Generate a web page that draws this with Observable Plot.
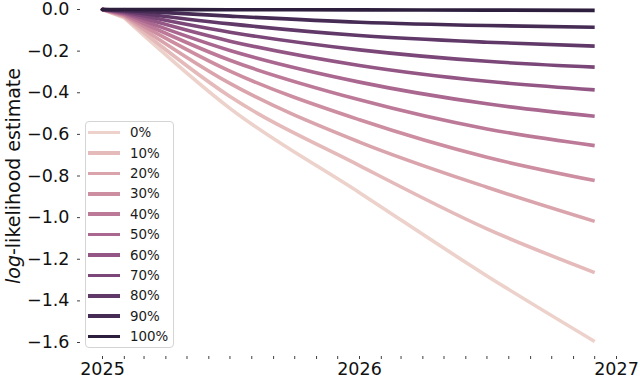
<!DOCTYPE html>
<html><head><meta charset="utf-8">
<script src="https://cdn.jsdelivr.net/npm/d3@7"></script>
<script src="https://cdn.jsdelivr.net/npm/@observablehq/plot@0.6"></script>
<style>
body{margin:0;background:#fff;font-family:"DejaVu Sans",sans-serif;}
#wrap{position:relative;width:640px;height:379px;}
.legend{position:absolute;left:85px;top:121px;width:89px;height:227px;border:1px solid #d4d4d4;border-radius:4px;background:rgba(255,255,255,0.8);box-sizing:border-box;padding-top:0.5px;}
.item{height:20.4px;display:flex;align-items:center;font-size:13.4px;color:#1a1a1a;font-family:"DejaVu Sans",sans-serif;}
.sw{width:32px;height:3.6px;margin-left:2px;margin-right:10px;}
</style></head><body><div id="wrap"></div>
<script>
// sample months (x positions are dates)
const months = ["2025-01","2025-02","2025-07","2026-01","2026-07","2026-12"];
// series (legend labels)
const series = ["0%","10%","20%","30%","40%","50%","60%","70%","80%","90%","100%"];
// log-likelihood estimates per series at the months above
const s0   = [0, -0.040, -0.475, -0.880, -1.280, -1.595];
const s10  = [0, -0.036, -0.418, -0.750, -1.054, -1.264];
const s20  = [0, -0.032, -0.355, -0.637, -0.854, -1.018];
const s30  = [0, -0.028, -0.296, -0.530, -0.710, -0.822];
const s40  = [0, -0.024, -0.244, -0.434, -0.574, -0.654];
const s50  = [0, -0.020, -0.197, -0.349, -0.453, -0.513];
const s60  = [0, -0.016, -0.152, -0.269, -0.345, -0.386];
const s70  = [0, -0.012, -0.109, -0.194, -0.249, -0.277];
const s80  = [0, -0.008, -0.069, -0.125, -0.157, -0.176];
const s90  = [0, -0.004, -0.032, -0.061, -0.077, -0.085];
const s100 = [0, 0, -0.001, -0.002, -0.003, -0.004];
const yTicks = [0, -0.2, -0.4, -0.6, -0.8, -1.0, -1.2, -1.4, -1.6];
const yearLabels = ["2025", "2026", "2027"];

const allSeries = [s0,s10,s20,s30,s40,s50,s60,s70,s80,s90,s100];
const parseM = s => { const [y,m] = s.split("-").map(Number); return new Date(Date.UTC(y, m-1, 1)); };
const rows = [];
allSeries.forEach((vals, i) => vals.forEach((v, j) => rows.push({series: series[i], k: j, date: parseM(months[j]), value: v})));
const headRows = rows.filter(r => r.k <= 1);
const tailRows = rows.filter(r => r.k >= 1);

// seaborn cubehelix palette (start=0, rot=.4, hue=.8, light=.85, dark=.15)
function cubehelix(x){
  const a = 0.8 * x * (1 - x) / 2, phi = 2 * Math.PI * (0.4 * x);
  const c = Math.cos(phi), s = Math.sin(phi);
  const f = (p0,p1) => Math.max(0, Math.min(1, x + a * (p0*c + p1*s)));
  return d3.rgb(255*f(-0.14861,1.78277), 255*f(-0.29227,-0.90649), 255*f(1.97294,0)).formatHex();
}
const colors = series.map((_, i) => cubehelix(0.85 - 0.7 * i / (series.length - 1)));

const plot = Plot.plot({
  width: 640, height: 379,
  marginLeft: 80, marginRight: 18, marginTop: 0, marginBottom: 23,
  style: {fontFamily: "DejaVu Sans, sans-serif", fontSize: "17.5px", color: "#111", background: "#fff", overflow: "visible"},
  x: {type: "utc", domain: [parseM("2025-01"), parseM("2027-01")], range: [102, 616]},
  y: {domain: [-1.6, 0], range: [342, 9]},
  color: {domain: series, range: colors},
  marks: [
    Plot.axisY({ticks: yTicks, tickFormat: d3.format(".1f"), tickSize: 3, tickPadding: 8, label: null, strokeOpacity: 0.8}),
    Plot.axisX({ticks: d3.utcMonth.every(1), tickSize: 3, tickPadding: 3, label: null, strokeOpacity: 0.8,
      tickFormat: d => d.getUTCMonth() === 0 ? yearLabels[d.getUTCFullYear() - 2025] : ""}),
    Plot.line(headRows, {x: "date", y: "value", z: "series", stroke: "series", strokeWidth: 3.6, strokeLinecap: "round"}),
    Plot.line(tailRows, {x: "date", y: "value", z: "series", stroke: "series", strokeWidth: 3.6, curve: "monotone-x", strokeLinecap: "butt"})
  ]
});

const wrap = document.getElementById("wrap");
wrap.appendChild(plot);

// y axis label with italic "log"
const lab = d3.select(plot).append("text")
  .attr("transform", "translate(20,176) rotate(-90)")
  .attr("text-anchor", "middle")
  .attr("font-size", "19px")
  .attr("fill", "#111");
lab.append("tspan").attr("font-style", "italic").text("log");
lab.append("tspan").text("-likelihood estimate");

// legend overlay
const leg = document.createElement("div");
leg.className = "legend";
series.forEach((s, i) => {
  const it = document.createElement("div"); it.className = "item";
  const sw = document.createElement("div"); sw.className = "sw"; sw.style.background = colors[i];
  const tx = document.createElement("span"); tx.textContent = s;
  it.appendChild(sw); it.appendChild(tx); leg.appendChild(it);
});
wrap.appendChild(leg);
</script></body></html>
